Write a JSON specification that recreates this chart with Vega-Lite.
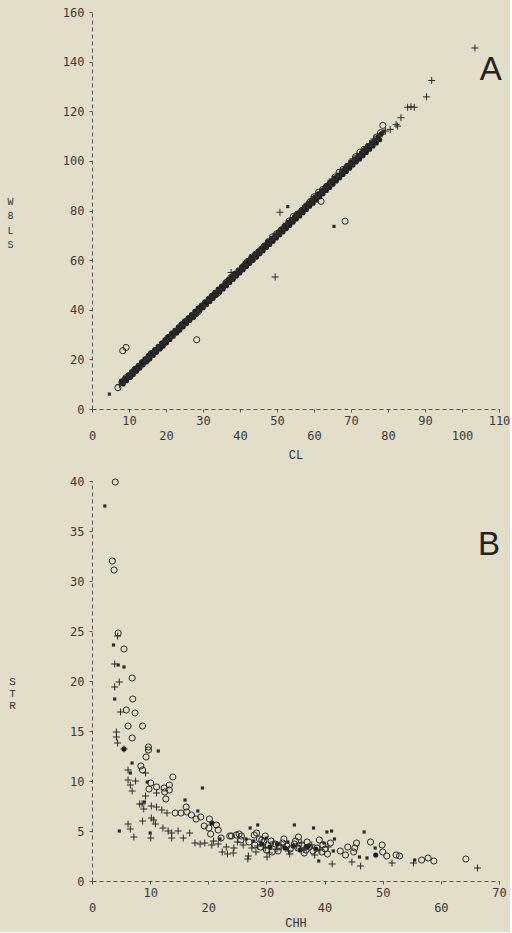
{
"$schema": "https://vega.github.io/schema/vega-lite/v6.json",
"background": "#e2dec9",
"padding": {"left": 6, "top": 6, "right": 0, "bottom": 4},
"spacing": 15,
"config": {
  "view": {"stroke": null},
  "axis": {"domainDash": [4, 3], "domainColor": "#555555", "tickColor": "#555555", "tickSize": 3, "grid": false, "labelFlush": false,
    "labelFont": "DejaVu Sans Mono", "labelFontSize": 12, "labelColor": "#3a3a3a", "labelOverlap": false,
    "titleFont": "Liberation Mono", "titleFontWeight": "normal", "titleColor": "#333333", "titleFontSize": 12}
},
"datasets": {
"a": [
{"x":7.0,"y":8.6,"s":"o"},{"x":7.4,"y":9.8,"s":"p"},{"x":7.8,"y":10.0,"s":"x"},{"x":8.1,"y":10.9,"s":"o"},{"x":8.5,"y":11.4,"s":"p"},{"x":8.9,"y":11.3,"s":"x"},{"x":9.2,"y":12.6,"s":"o"},{"x":9.6,"y":12.9,"s":"p"},{"x":10.0,"y":13.6,"s":"x"},{"x":10.3,"y":13.2,"s":"o"},{"x":10.7,"y":14.5,"s":"p"},{"x":11.1,"y":14.6,"s":"x"},{"x":11.5,"y":15.7,"s":"o"},{"x":11.8,"y":15.3,"s":"p"},{"x":12.2,"y":16.6,"s":"x"},{"x":12.6,"y":16.8,"s":"o"},{"x":13.0,"y":17.9,"s":"p"},{"x":13.3,"y":17.4,"s":"x"},{"x":13.7,"y":18.8,"s":"o"},{"x":14.1,"y":18.9,"s":"p"},{"x":14.5,"y":20.0,"s":"x"},{"x":14.9,"y":19.8,"s":"o"},{"x":15.2,"y":21.0,"s":"p"},{"x":15.6,"y":21.0,"s":"x"},{"x":16.0,"y":22.3,"s":"o"},{"x":16.4,"y":22.0,"s":"p"},{"x":16.8,"y":23.3,"s":"x"},{"x":17.1,"y":23.5,"s":"o"},{"x":17.5,"y":23.8,"s":"p"},{"x":17.9,"y":24.9,"s":"x"},{"x":18.3,"y":24.6,"s":"o"},{"x":18.7,"y":25.8,"s":"p"},{"x":19.0,"y":26.3,"s":"x"},{"x":19.4,"y":26.4,"s":"o"},{"x":19.8,"y":27.4,"s":"p"},{"x":20.2,"y":27.3,"s":"x"},{"x":20.5,"y":28.6,"s":"o"},{"x":20.9,"y":28.7,"s":"p"},{"x":21.3,"y":29.0,"s":"x"},{"x":21.7,"y":30.3,"s":"o"},{"x":22.0,"y":30.0,"s":"p"},{"x":22.4,"y":31.3,"s":"x"},{"x":22.8,"y":31.1,"s":"o"},{"x":23.2,"y":32.4,"s":"p"},{"x":23.6,"y":32.2,"s":"x"},{"x":23.9,"y":33.3,"s":"o"},{"x":24.3,"y":33.8,"s":"p"},{"x":24.7,"y":33.7,"s":"x"},{"x":25.1,"y":35.0,"s":"o"},{"x":25.4,"y":35.3,"s":"p"},{"x":25.8,"y":35.1,"s":"x"},{"x":26.2,"y":36.4,"s":"o"},{"x":26.6,"y":36.6,"s":"p"},{"x":27.0,"y":37.5,"s":"x"},{"x":27.3,"y":37.2,"s":"o"},{"x":27.7,"y":38.7,"s":"p"},{"x":28.1,"y":38.7,"s":"x"},{"x":28.5,"y":39.1,"s":"o"},{"x":28.8,"y":40.3,"s":"p"},{"x":29.2,"y":40.0,"s":"x"},{"x":29.6,"y":41.2,"s":"o"},{"x":30.0,"y":41.9,"s":"p"},{"x":30.4,"y":41.7,"s":"x"},{"x":30.7,"y":42.6,"s":"o"},{"x":31.1,"y":43.6,"s":"p"},{"x":31.5,"y":43.3,"s":"x"},{"x":31.9,"y":44.4,"s":"o"},{"x":32.2,"y":44.2,"s":"p"},{"x":32.6,"y":45.5,"s":"x"},{"x":33.0,"y":45.9,"s":"o"},{"x":33.4,"y":46.2,"s":"p"},{"x":33.8,"y":47.3,"s":"x"},{"x":34.1,"y":46.9,"s":"o"},{"x":34.5,"y":48.4,"s":"p"},{"x":34.9,"y":48.3,"s":"x"},{"x":35.3,"y":49.0,"s":"o"},{"x":35.6,"y":50.0,"s":"p"},{"x":36.0,"y":49.8,"s":"x"},{"x":36.4,"y":51.1,"s":"o"},{"x":36.8,"y":51.1,"s":"p"},{"x":37.1,"y":51.9,"s":"x"},{"x":37.5,"y":52.9,"s":"o"},{"x":37.9,"y":52.6,"s":"p"},{"x":38.3,"y":53.9,"s":"x"},{"x":38.6,"y":54.3,"s":"o"},{"x":39.0,"y":54.4,"s":"p"},{"x":39.4,"y":55.6,"s":"x"},{"x":39.8,"y":55.3,"s":"o"},{"x":40.2,"y":56.7,"s":"p"},{"x":40.5,"y":56.9,"s":"x"},{"x":40.9,"y":57.3,"s":"o"},{"x":41.3,"y":58.5,"s":"p"},{"x":41.7,"y":58.2,"s":"x"},{"x":42.0,"y":59.4,"s":"o"},{"x":42.4,"y":59.8,"s":"p"},{"x":42.8,"y":60.0,"s":"x"},{"x":43.2,"y":61.2,"s":"o"},{"x":43.5,"y":60.8,"s":"p"},{"x":43.9,"y":62.3,"s":"x"},{"x":44.3,"y":62.4,"s":"o"},{"x":44.7,"y":62.9,"s":"p"},{"x":45.0,"y":64.0,"s":"x"},{"x":45.4,"y":63.5,"s":"o"},{"x":45.8,"y":64.9,"s":"p"},{"x":46.2,"y":65.3,"s":"x"},{"x":46.5,"y":65.2,"s":"o"},{"x":46.9,"y":66.7,"s":"p"},{"x":47.3,"y":66.4,"s":"x"},{"x":47.7,"y":67.5,"s":"o"},{"x":48.0,"y":68.0,"s":"p"},{"x":48.4,"y":67.9,"s":"x"},{"x":48.8,"y":69.4,"s":"o"},{"x":49.2,"y":69.0,"s":"p"},{"x":49.5,"y":70.3,"s":"x"},{"x":49.9,"y":70.6,"s":"o"},{"x":50.3,"y":70.8,"s":"p"},{"x":50.7,"y":72.1,"s":"x"},{"x":51.0,"y":71.7,"s":"o"},{"x":51.4,"y":73.1,"s":"p"},{"x":51.8,"y":73.3,"s":"x"},{"x":52.2,"y":73.5,"s":"o"},{"x":52.5,"y":74.9,"s":"p"},{"x":52.9,"y":74.4,"s":"x"},{"x":53.3,"y":75.8,"s":"o"},{"x":53.7,"y":76.0,"s":"p"},{"x":54.0,"y":75.9,"s":"x"},{"x":54.4,"y":77.6,"s":"o"},{"x":54.8,"y":77.0,"s":"p"},{"x":55.2,"y":78.5,"s":"x"},{"x":55.5,"y":78.5,"s":"o"},{"x":55.9,"y":78.7,"s":"p"},{"x":56.3,"y":80.2,"s":"x"},{"x":56.7,"y":79.9,"s":"o"},{"x":57.0,"y":80.8,"s":"p"},{"x":57.4,"y":81.7,"s":"x"},{"x":57.8,"y":81.3,"s":"o"},{"x":58.2,"y":82.9,"s":"p"},{"x":58.5,"y":82.7,"s":"x"},{"x":58.9,"y":83.3,"s":"o"},{"x":59.3,"y":84.6,"s":"p"},{"x":59.7,"y":84.0,"s":"x"},{"x":60.0,"y":85.5,"s":"o"},{"x":60.4,"y":85.6,"s":"p"},{"x":60.8,"y":85.8,"s":"x"},{"x":61.2,"y":87.3,"s":"o"},{"x":61.5,"y":86.8,"s":"p"},{"x":61.9,"y":88.2,"s":"x"},{"x":62.3,"y":88.4,"s":"o"},{"x":62.7,"y":88.7,"s":"p"},{"x":63.0,"y":89.9,"s":"x"},{"x":63.4,"y":89.5,"s":"o"},{"x":63.8,"y":90.9,"s":"p"},{"x":64.2,"y":91.2,"s":"x"},{"x":64.5,"y":91.2,"s":"o"},{"x":64.9,"y":92.7,"s":"p"},{"x":65.3,"y":92.2,"s":"x"},{"x":65.7,"y":93.5,"s":"o"},{"x":66.0,"y":93.9,"s":"p"},{"x":66.4,"y":93.9,"s":"x"},{"x":66.8,"y":95.4,"s":"o"},{"x":67.2,"y":94.9,"s":"p"},{"x":67.5,"y":96.3,"s":"x"},{"x":67.9,"y":96.6,"s":"o"},{"x":68.3,"y":96.7,"s":"p"},{"x":68.7,"y":98.1,"s":"x"},{"x":69.0,"y":97.6,"s":"o"},{"x":69.4,"y":99.0,"s":"p"},{"x":69.8,"y":99.3,"s":"x"},{"x":70.2,"y":99.4,"s":"o"},{"x":70.5,"y":100.8,"s":"p"},{"x":70.9,"y":100.3,"s":"x"},{"x":71.3,"y":101.7,"s":"o"},{"x":71.7,"y":102.0,"s":"p"},{"x":72.0,"y":102.0,"s":"x"},{"x":72.4,"y":103.5,"s":"o"},{"x":72.8,"y":102.9,"s":"p"},{"x":73.2,"y":104.4,"s":"x"},{"x":73.5,"y":104.6,"s":"o"},{"x":73.9,"y":104.7,"s":"p"},{"x":74.3,"y":106.2,"s":"x"},{"x":74.7,"y":105.6,"s":"o"},{"x":75.0,"y":106.9,"s":"p"},{"x":75.4,"y":107.5,"s":"x"},{"x":75.8,"y":107.3,"s":"o"},{"x":76.2,"y":108.8,"s":"p"},{"x":76.5,"y":108.3,"s":"x"},{"x":76.9,"y":109.6,"s":"o"},{"x":77.3,"y":109.9,"s":"p"},{"x":77.7,"y":110.0,"s":"x"},{"x":78.0,"y":111.4,"s":"o"},{"x":78.4,"y":110.8,"s":"p"},{"x":78.9,"y":112.0,"s":"x"},{"x":79.3,"y":112.0,"s":"p"},
{"x":80.6,"y":112.7,"s":"p"},{"x":82.2,"y":114.7,"s":"p"},{"x":82.6,"y":114.0,"s":"p"},{"x":83.5,"y":117.4,"s":"p"},{"x":85.3,"y":121.6,"s":"p"},{"x":86.2,"y":121.8,"s":"p"},{"x":87.1,"y":121.6,"s":"p"},{"x":90.4,"y":125.8,"s":"p"},{"x":91.8,"y":132.4,"s":"p"},{"x":103.5,"y":145.5,"s":"p"},{"x":78.6,"y":114.3,"s":"o"},
{"x":8.3,"y":23.5,"s":"o"},{"x":9.2,"y":24.8,"s":"o"},{"x":28.3,"y":27.9,"s":"o"},{"x":49.5,"y":53.2,"s":"p"},{"x":4.7,"y":6.0,"s":"x"},{"x":50.8,"y":79.3,"s":"p"},{"x":52.9,"y":81.6,"s":"x"},{"x":61.9,"y":83.7,"s":"o"},{"x":65.4,"y":73.6,"s":"x"},{"x":68.4,"y":75.7,"s":"o"},{"x":37.6,"y":55.0,"s":"p"},
{"x":8.0,"y":11.3,"s":"f"},{"x":8.45,"y":10.1,"s":"f"},{"x":8.9,"y":12.5,"s":"f"},{"x":9.35,"y":11.4,"s":"f"},{"x":9.8,"y":13.8,"s":"f"},{"x":10.25,"y":12.7,"s":"f"},{"x":10.7,"y":15.1,"s":"f"},{"x":11.15,"y":13.9,"s":"f"},{"x":11.6,"y":16.4,"s":"f"},{"x":12.05,"y":15.2,"s":"f"},{"x":12.5,"y":17.6,"s":"f"},{"x":12.95,"y":16.5,"s":"f"},{"x":13.4,"y":18.9,"s":"f"},{"x":13.85,"y":17.8,"s":"f"},{"x":14.3,"y":20.2,"s":"f"},{"x":14.75,"y":19.0,"s":"f"},{"x":15.2,"y":21.5,"s":"f"},{"x":15.65,"y":20.3,"s":"f"},{"x":16.1,"y":22.8,"s":"f"},{"x":16.55,"y":21.6,"s":"f"},{"x":17.0,"y":24.0,"s":"f"},{"x":17.45,"y":22.9,"s":"f"},{"x":17.9,"y":25.3,"s":"f"},{"x":18.35,"y":24.2,"s":"f"},{"x":18.8,"y":26.6,"s":"f"},{"x":19.25,"y":25.4,"s":"f"},{"x":19.7,"y":27.9,"s":"f"},{"x":20.15,"y":26.7,"s":"f"},{"x":20.6,"y":29.2,"s":"f"},{"x":21.05,"y":28.0,"s":"f"},{"x":21.5,"y":30.4,"s":"f"},{"x":21.95,"y":29.3,"s":"f"},{"x":22.4,"y":31.7,"s":"f"},{"x":22.85,"y":30.6,"s":"f"},{"x":23.3,"y":33.0,"s":"f"},{"x":23.75,"y":31.8,"s":"f"},{"x":24.2,"y":34.3,"s":"f"},{"x":24.65,"y":33.1,"s":"f"},{"x":25.1,"y":35.5,"s":"f"},{"x":25.55,"y":34.4,"s":"f"},{"x":26.0,"y":36.8,"s":"f"},{"x":26.45,"y":35.7,"s":"f"},{"x":26.9,"y":38.1,"s":"f"},{"x":27.35,"y":36.9,"s":"f"},{"x":27.8,"y":39.4,"s":"f"},{"x":28.25,"y":38.2,"s":"f"},{"x":28.7,"y":40.7,"s":"f"},{"x":29.15,"y":39.5,"s":"f"},{"x":29.6,"y":41.9,"s":"f"},{"x":30.05,"y":40.8,"s":"f"},{"x":30.5,"y":43.2,"s":"f"},{"x":30.95,"y":42.0,"s":"f"},{"x":31.4,"y":44.5,"s":"f"},{"x":31.85,"y":43.3,"s":"f"},{"x":32.3,"y":45.8,"s":"f"},{"x":32.75,"y":44.6,"s":"f"},{"x":33.2,"y":47.0,"s":"f"},{"x":33.65,"y":45.9,"s":"f"},{"x":34.1,"y":48.3,"s":"f"},{"x":34.55,"y":47.2,"s":"f"},{"x":35.0,"y":49.6,"s":"f"},{"x":35.45,"y":48.4,"s":"f"},{"x":35.9,"y":50.9,"s":"f"},{"x":36.35,"y":49.7,"s":"f"},{"x":36.8,"y":52.2,"s":"f"},{"x":37.25,"y":51.0,"s":"f"},{"x":37.7,"y":53.4,"s":"f"},{"x":38.15,"y":52.3,"s":"f"},{"x":38.6,"y":54.7,"s":"f"},{"x":39.05,"y":53.6,"s":"f"},{"x":39.5,"y":56.0,"s":"f"},{"x":39.95,"y":54.8,"s":"f"},{"x":40.4,"y":57.3,"s":"f"},{"x":40.85,"y":56.1,"s":"f"},{"x":41.3,"y":58.6,"s":"f"},{"x":41.75,"y":57.4,"s":"f"},{"x":42.2,"y":59.8,"s":"f"},{"x":42.65,"y":58.7,"s":"f"},{"x":43.1,"y":61.1,"s":"f"},{"x":43.55,"y":59.9,"s":"f"},{"x":44.0,"y":62.4,"s":"f"},{"x":44.45,"y":61.2,"s":"f"},{"x":44.9,"y":63.7,"s":"f"},{"x":45.35,"y":62.5,"s":"f"},{"x":45.8,"y":64.9,"s":"f"},{"x":46.25,"y":63.8,"s":"f"},{"x":46.7,"y":66.2,"s":"f"},{"x":47.15,"y":65.1,"s":"f"},{"x":47.6,"y":67.5,"s":"f"},{"x":48.05,"y":66.3,"s":"f"},{"x":48.5,"y":68.8,"s":"f"},{"x":48.95,"y":67.6,"s":"f"},{"x":49.4,"y":70.1,"s":"f"},{"x":49.85,"y":68.9,"s":"f"},{"x":50.3,"y":71.3,"s":"f"},{"x":50.75,"y":70.2,"s":"f"},{"x":51.2,"y":72.6,"s":"f"},{"x":51.65,"y":71.4,"s":"f"},{"x":52.1,"y":73.9,"s":"f"},{"x":52.55,"y":72.7,"s":"f"},{"x":53.0,"y":75.2,"s":"f"},{"x":53.45,"y":74.0,"s":"f"},{"x":53.9,"y":76.4,"s":"f"},{"x":54.35,"y":75.3,"s":"f"},{"x":54.8,"y":77.7,"s":"f"},{"x":55.25,"y":76.6,"s":"f"},{"x":55.7,"y":79.0,"s":"f"},{"x":56.15,"y":77.8,"s":"f"},{"x":56.6,"y":80.3,"s":"f"},{"x":57.05,"y":79.1,"s":"f"},{"x":57.5,"y":81.6,"s":"f"},{"x":57.95,"y":80.4,"s":"f"},{"x":58.4,"y":82.8,"s":"f"},{"x":58.85,"y":81.7,"s":"f"},{"x":59.3,"y":84.1,"s":"f"},{"x":59.75,"y":82.9,"s":"f"},{"x":60.2,"y":85.4,"s":"f"},{"x":60.65,"y":84.2,"s":"f"},{"x":61.1,"y":86.7,"s":"f"},{"x":61.55,"y":85.5,"s":"f"},{"x":62.0,"y":87.9,"s":"f"},{"x":62.45,"y":86.8,"s":"f"},{"x":62.9,"y":89.2,"s":"f"},{"x":63.35,"y":88.1,"s":"f"},{"x":63.8,"y":90.5,"s":"f"},{"x":64.25,"y":89.3,"s":"f"},{"x":64.7,"y":91.8,"s":"f"},{"x":65.15,"y":90.6,"s":"f"},{"x":65.6,"y":93.1,"s":"f"},{"x":66.05,"y":91.9,"s":"f"},{"x":66.5,"y":94.3,"s":"f"},{"x":66.95,"y":93.2,"s":"f"},{"x":67.4,"y":95.6,"s":"f"},{"x":67.85,"y":94.5,"s":"f"},{"x":68.3,"y":96.9,"s":"f"},{"x":68.75,"y":95.7,"s":"f"},{"x":69.2,"y":98.2,"s":"f"},{"x":69.65,"y":97.0,"s":"f"},{"x":70.1,"y":99.4,"s":"f"},{"x":70.55,"y":98.3,"s":"f"},{"x":71.0,"y":100.7,"s":"f"},{"x":71.45,"y":99.6,"s":"f"},{"x":71.9,"y":102.0,"s":"f"},{"x":72.35,"y":100.8,"s":"f"},{"x":72.8,"y":103.3,"s":"f"},{"x":73.25,"y":102.1,"s":"f"},{"x":73.7,"y":104.6,"s":"f"},{"x":74.15,"y":103.4,"s":"f"},{"x":74.6,"y":105.8,"s":"f"},{"x":75.05,"y":104.7,"s":"f"},{"x":75.5,"y":107.1,"s":"f"},{"x":75.95,"y":106.0,"s":"f"},{"x":76.4,"y":108.4,"s":"f"},{"x":76.85,"y":107.2,"s":"f"},{"x":77.3,"y":109.7,"s":"f"},{"x":77.75,"y":108.5,"s":"f"},{"x":78.2,"y":110.9,"s":"f"}
],
"b": [
{"x":4.0,"y":39.9,"s":"o"},{"x":3.5,"y":32.0,"s":"o"},{"x":3.8,"y":31.1,"s":"o"},{"x":4.5,"y":24.8,"s":"o"},{"x":5.5,"y":23.2,"s":"o"},{"x":6.9,"y":20.3,"s":"o"},{"x":7.0,"y":18.2,"s":"o"},{"x":5.9,"y":17.1,"s":"o"},{"x":7.4,"y":16.8,"s":"o"},{"x":6.2,"y":15.5,"s":"o"},{"x":8.7,"y":15.5,"s":"o"},{"x":6.9,"y":14.3,"s":"o"},{"x":9.7,"y":13.4,"s":"o"},{"x":9.7,"y":13.1,"s":"o"},{"x":9.3,"y":12.4,"s":"o"},{"x":8.4,"y":11.5,"s":"o"},{"x":8.7,"y":11.1,"s":"o"},{"x":10.1,"y":9.8,"s":"o"},{"x":13.9,"y":10.4,"s":"o"},{"x":11.1,"y":9.4,"s":"o"},{"x":12.4,"y":9.3,"s":"o"},{"x":13.3,"y":9.6,"s":"o"},{"x":9.8,"y":9.2,"s":"o"},{"x":12.5,"y":8.9,"s":"o"},{"x":13.3,"y":9.1,"s":"o"},{"x":12.7,"y":8.2,"s":"o"},{"x":16.2,"y":7.4,"s":"o"},{"x":14.3,"y":6.8,"s":"o"},{"x":15.3,"y":6.8,"s":"o"},{"x":16.3,"y":6.9,"s":"o"},{"x":17.1,"y":6.6,"s":"o"},{"x":18.7,"y":6.4,"s":"o"},{"x":17.9,"y":6.2,"s":"o"},{"x":20.2,"y":6.2,"s":"o"},{"x":19.3,"y":5.5,"s":"o"},{"x":20.1,"y":5.3,"s":"o"},{"x":21.4,"y":5.6,"s":"o"},{"x":21.7,"y":5.1,"s":"o"},{"x":20.4,"y":4.7,"s":"o"},{"x":22.2,"y":4.3,"s":"o"},{"x":23.7,"y":4.5,"s":"o"},{"x":24.8,"y":4.6,"s":"o"},{"x":25.7,"y":4.5,"s":"o"},{"x":25.6,"y":4.1,"s":"o"},{"x":27.9,"y":4.6,"s":"o"},{"x":28.3,"y":4.8,"s":"o"},{"x":29.8,"y":4.5,"s":"o"},{"x":29.2,"y":4.1,"s":"o"},{"x":24.0,"y":4.5,"s":"o"},{"x":25.3,"y":4.7,"s":"o"},{"x":35.5,"y":4.4,"s":"o"},{"x":39.1,"y":4.1,"s":"o"},{"x":41.0,"y":3.8,"s":"o"},{"x":42.7,"y":3.0,"s":"o"},{"x":43.6,"y":2.6,"s":"o"},{"x":44.0,"y":3.4,"s":"o"},{"x":45.0,"y":2.9,"s":"o"},{"x":45.2,"y":3.3,"s":"o"},{"x":45.5,"y":3.8,"s":"o"},{"x":47.9,"y":3.9,"s":"o"},{"x":49.9,"y":3.6,"s":"o"},{"x":50.0,"y":2.9,"s":"o"},{"x":50.7,"y":2.5,"s":"o"},{"x":52.3,"y":2.6,"s":"o"},{"x":52.9,"y":2.5,"s":"o"},{"x":56.7,"y":2.1,"s":"o"},{"x":57.8,"y":2.3,"s":"o"},{"x":58.8,"y":2.0,"s":"o"},{"x":64.3,"y":2.2,"s":"o"},
{"x":28.8,"y":4.2,"s":"o"},{"x":29.5,"y":3.9,"s":"o"},{"x":30.2,"y":3.6,"s":"o"},{"x":30.8,"y":4.0,"s":"o"},{"x":31.5,"y":3.7,"s":"o"},{"x":32.2,"y":3.4,"s":"o"},{"x":32.8,"y":3.8,"s":"o"},{"x":33.5,"y":3.5,"s":"o"},{"x":34.1,"y":3.2,"s":"o"},{"x":34.8,"y":3.7,"s":"o"},{"x":35.4,"y":3.3,"s":"o"},{"x":36.1,"y":3.6,"s":"o"},{"x":36.8,"y":3.1,"s":"o"},{"x":37.4,"y":3.4,"s":"o"},{"x":38.0,"y":3.0,"s":"o"},{"x":38.7,"y":3.3,"s":"o"},{"x":39.5,"y":2.9,"s":"o"},{"x":40.1,"y":3.2,"s":"o"},{"x":30.0,"y":3.1,"s":"o"},{"x":31.0,"y":2.9,"s":"o"},{"x":33.0,"y":4.2,"s":"o"},{"x":35.0,"y":4.0,"s":"o"},{"x":37.0,"y":3.9,"s":"o"},{"x":39.7,"y":3.6,"s":"o"},{"x":29.0,"y":3.4,"s":"o"},{"x":32.0,"y":3.0,"s":"o"},{"x":36.5,"y":2.8,"s":"o"},{"x":40.5,"y":2.7,"s":"o"},{"x":27.0,"y":3.9,"s":"o"},{"x":28.0,"y":3.6,"s":"o"},
{"x":4.4,"y":24.5,"s":"p"},{"x":3.9,"y":21.7,"s":"p"},{"x":4.7,"y":19.9,"s":"p"},{"x":3.9,"y":19.4,"s":"p"},{"x":4.9,"y":16.9,"s":"p"},{"x":4.2,"y":14.9,"s":"p"},{"x":4.2,"y":14.4,"s":"p"},{"x":4.4,"y":13.8,"s":"p"},{"x":5.5,"y":13.2,"s":"p"},{"x":6.2,"y":11.1,"s":"p"},{"x":9.2,"y":10.8,"s":"p"},{"x":6.2,"y":10.1,"s":"p"},{"x":7.5,"y":10.0,"s":"p"},{"x":6.6,"y":9.6,"s":"p"},{"x":6.9,"y":9.0,"s":"p"},{"x":11.1,"y":8.8,"s":"p"},{"x":9.2,"y":8.5,"s":"p"},{"x":8.6,"y":7.7,"s":"p"},{"x":8.2,"y":7.7,"s":"p"},{"x":10.2,"y":7.5,"s":"p"},{"x":8.9,"y":7.2,"s":"p"},{"x":11.1,"y":7.4,"s":"p"},{"x":12.0,"y":7.1,"s":"p"},{"x":12.9,"y":6.8,"s":"p"},{"x":8.7,"y":6.0,"s":"p"},{"x":10.2,"y":6.3,"s":"p"},{"x":10.6,"y":6.1,"s":"p"},{"x":10.9,"y":5.7,"s":"p"},{"x":6.2,"y":5.7,"s":"p"},{"x":6.6,"y":5.2,"s":"p"},{"x":7.2,"y":4.4,"s":"p"},{"x":10.1,"y":4.3,"s":"p"},{"x":12.2,"y":5.3,"s":"p"},{"x":13.1,"y":5.0,"s":"p"},{"x":13.7,"y":4.8,"s":"p"},{"x":14.8,"y":5.0,"s":"p"},{"x":13.7,"y":4.3,"s":"p"},{"x":15.7,"y":4.3,"s":"p"},{"x":16.8,"y":4.8,"s":"p"},{"x":17.7,"y":3.8,"s":"p"},{"x":18.6,"y":3.7,"s":"p"},{"x":19.4,"y":3.8,"s":"p"},{"x":20.6,"y":3.6,"s":"p"},{"x":20.9,"y":4.0,"s":"p"},{"x":21.7,"y":3.7,"s":"p"},{"x":22.4,"y":2.9,"s":"p"},{"x":23.3,"y":2.7,"s":"p"},{"x":24.3,"y":2.8,"s":"p"},{"x":23.1,"y":3.4,"s":"p"},{"x":24.4,"y":3.3,"s":"p"},{"x":26.8,"y":2.2,"s":"p"},{"x":26.9,"y":2.5,"s":"p"},{"x":28.2,"y":2.9,"s":"p"},{"x":30.1,"y":2.4,"s":"p"},{"x":46.2,"y":1.5,"s":"p"},{"x":44.7,"y":1.9,"s":"p"},{"x":51.6,"y":1.8,"s":"p"},{"x":41.3,"y":1.7,"s":"p"},{"x":55.3,"y":1.8,"s":"p"},{"x":66.3,"y":1.3,"s":"p"},
{"x":28.5,"y":3.5,"s":"p"},{"x":29.8,"y":3.3,"s":"p"},{"x":31.2,"y":3.9,"s":"p"},{"x":32.5,"y":3.6,"s":"p"},{"x":33.8,"y":3.0,"s":"p"},{"x":35.2,"y":3.5,"s":"p"},{"x":36.5,"y":3.2,"s":"p"},{"x":37.8,"y":3.6,"s":"p"},{"x":39.2,"y":3.1,"s":"p"},{"x":40.6,"y":3.4,"s":"p"},{"x":30.5,"y":2.8,"s":"p"},{"x":34.0,"y":2.7,"s":"p"},{"x":38.3,"y":2.6,"s":"p"},{"x":27.5,"y":3.3,"s":"p"},{"x":26.0,"y":3.6,"s":"p"},{"x":25.0,"y":3.9,"s":"p"},{"x":31.8,"y":3.2,"s":"p"},{"x":36.0,"y":3.8,"s":"p"},
{"x":2.2,"y":37.5,"s":"x"},{"x":3.7,"y":23.6,"s":"x"},{"x":4.5,"y":21.6,"s":"x"},{"x":5.5,"y":21.4,"s":"x"},{"x":3.9,"y":18.2,"s":"x"},{"x":11.4,"y":13.0,"s":"x"},{"x":6.9,"y":11.8,"s":"x"},{"x":6.6,"y":10.8,"s":"x"},{"x":9.5,"y":9.9,"s":"x"},{"x":19.0,"y":9.3,"s":"x"},{"x":9.0,"y":7.9,"s":"x"},{"x":16.0,"y":8.1,"s":"x"},{"x":18.2,"y":7.0,"s":"x"},{"x":4.7,"y":5.0,"s":"x"},{"x":10.0,"y":4.8,"s":"x"},{"x":27.2,"y":5.3,"s":"x"},{"x":28.5,"y":5.6,"s":"x"},{"x":34.8,"y":5.6,"s":"x"},{"x":38.1,"y":5.3,"s":"x"},{"x":40.4,"y":4.9,"s":"x"},{"x":41.2,"y":5.0,"s":"x"},{"x":46.8,"y":4.9,"s":"x"},{"x":48.7,"y":3.3,"s":"x"},{"x":47.3,"y":2.3,"s":"x"},{"x":46.0,"y":2.4,"s":"x"},{"x":39.0,"y":2.0,"s":"x"},{"x":55.5,"y":2.1,"s":"x"},{"x":41.7,"y":4.2,"s":"x"},{"x":48.8,"y":2.6,"s":"f"},{"x":20.6,"y":5.8,"s":"f"},{"x":5.5,"y":13.2,"s":"f"},{"x":22.0,"y":4.2,"s":"x"},
{"x":29.2,"y":3.7,"s":"f"},{"x":30.6,"y":3.4,"s":"f"},{"x":31.9,"y":3.7,"s":"f"},{"x":33.2,"y":3.3,"s":"f"},{"x":34.6,"y":3.5,"s":"f"},{"x":35.8,"y":3.1,"s":"f"},{"x":37.2,"y":3.5,"s":"f"},{"x":38.5,"y":3.2,"s":"f"},{"x":39.9,"y":3.8,"s":"x"},{"x":41.5,"y":3.0,"s":"x"},{"x":30.0,"y":4.3,"s":"x"},{"x":33.7,"y":3.9,"s":"x"},{"x":36.9,"y":3.4,"s":"f"},{"x":27.8,"y":4.0,"s":"x"},{"x":26.5,"y":4.2,"s":"x"}
],
"la": [{"x": 107.8, "y": 136.6, "t": "A"}],
"lb": [{"x": 68.3, "y": 33.6, "t": "B"}]
},
"vconcat": [
{
 "width": 407, "height": 397,
 "data": {"name": "a"},
 "encoding": {
   "x": {"field": "x", "type": "quantitative", "scale": {"domain": [0, 110], "nice": false, "zero": false},
     "axis": {"values": [0,10,20,30,40,50,60,70,80,90,100,110], "title": "CL", "titlePadding": 8, "labelOverlap": false,
       "labelPadding": {"condition": {"test": "datum.value % 20 === 0", "value": 18}, "value": 3}}},
   "y": {"field": "y", "type": "quantitative", "scale": {"domain": [0, 160], "nice": false, "zero": false},
     "axis": {"values": [0,20,40,60,80,100,120,140,160], "labelPadding": 5, "labelOverlap": false,
       "title": ["W","8","L","S"], "titleAngle": 0, "titleX": -82, "titleY": 184, "titleAlign": "center", "titleBaseline": "top", "titleFontSize": 10, "titleLineHeight": 14.5}}
 },
 "layer": [
  {"transform": [{"filter": "datum.s === 'f'"}], "mark": {"type": "point", "shape": "circle", "filled": true, "color": "#1e1e1e", "size": 26, "opacity": 1}},
  {"transform": [{"filter": "datum.s === 'o'"}], "mark": {"type": "point", "shape": "circle", "filled": false, "color": "#2a2a2a", "strokeWidth": 1, "size": 38, "opacity": 1}},
  {"transform": [{"filter": "datum.s === 'p'"}], "mark": {"type": "point", "shape": "M-1,0L1,0M0,-1L0,1", "filled": false, "color": "#2a2a2a", "strokeWidth": 1, "size": 49, "opacity": 1}},
  {"transform": [{"filter": "datum.s === 'x'"}], "mark": {"type": "point", "shape": "square", "filled": true, "color": "#2a2a2a", "size": 10, "opacity": 1}},
  {"data": {"name": "la"},
   "mark": {"type": "text", "font": "Liberation Sans", "fontSize": 33, "align": "center", "baseline": "middle", "color": "#222222"},
   "encoding": {"text": {"field": "t"}}}
 ]
},
{
 "width": 407, "height": 400,
 "data": {"name": "b"},
 "encoding": {
   "x": {"field": "x", "type": "quantitative", "scale": {"domain": [0, 70], "nice": false, "zero": false},
     "axis": {"values": [0,10,20,30,40,50,60,70], "title": "CHH", "titlePadding": 4, "labelOverlap": false,
       "labelPadding": {"condition": {"test": "datum.value % 20 === 0", "value": 18}, "value": 3}}},
   "y": {"field": "y", "type": "quantitative", "scale": {"domain": [0, 40], "nice": false, "zero": false},
     "axis": {"values": [0,5,10,15,20,25,30,35,40], "labelPadding": 5, "labelOverlap": false,
       "title": ["S","T","R"], "titleAngle": 0, "titleX": -80, "titleY": 194, "titleAlign": "center", "titleBaseline": "top", "titleFontSize": 11, "titleLineHeight": 12}}
 },
 "layer": [
  {"transform": [{"filter": "datum.s === 'f'"}], "mark": {"type": "point", "shape": "circle", "filled": true, "color": "#1e1e1e", "size": 26, "opacity": 1}},
  {"transform": [{"filter": "datum.s === 'o'"}], "mark": {"type": "point", "shape": "circle", "filled": false, "color": "#2a2a2a", "strokeWidth": 1, "size": 38, "opacity": 1}},
  {"transform": [{"filter": "datum.s === 'p'"}], "mark": {"type": "point", "shape": "M-1,0L1,0M0,-1L0,1", "filled": false, "color": "#2a2a2a", "strokeWidth": 1, "size": 49, "opacity": 1}},
  {"transform": [{"filter": "datum.s === 'x'"}], "mark": {"type": "point", "shape": "square", "filled": true, "color": "#2a2a2a", "size": 10, "opacity": 1}},
  {"data": {"name": "lb"},
   "mark": {"type": "text", "font": "Liberation Sans", "fontSize": 33, "align": "center", "baseline": "middle", "color": "#222222"},
   "encoding": {"text": {"field": "t"}}}
 ]
}
]
}
